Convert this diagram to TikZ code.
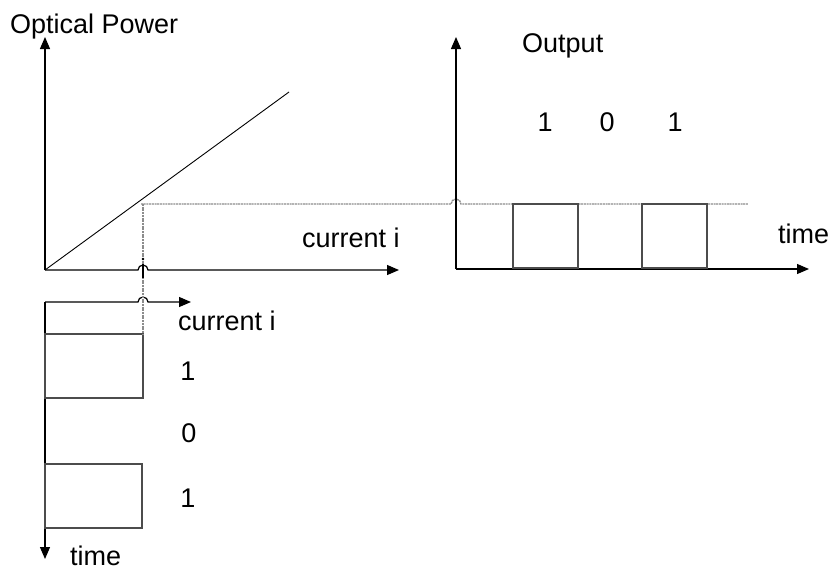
\documentclass[tikz,border=0pt]{standalone}
\usepackage{fontspec}
\setmainfont{Liberation Sans}
\usetikzlibrary{arrows.meta}
\begin{document}
\begin{tikzpicture}[x=1pt,y=-1pt,
  axis/.style={line width=1.2pt,-{Triangle[length=12pt,width=10pt]}},
  plain/.style={line width=1.2pt},
  pulse/.style={line width=1.3pt,draw=black!70},
  dotline/.style={line width=1.4pt,draw=black!45,dash pattern=on 2pt off 0.7pt},
  lbl/.style={inner sep=0pt,font=\fontsize{27}{31}\selectfont}]
\useasboundingbox (0,0) rectangle (837,574);
% coordinates
\coordinate (O1) at (45,270);
\coordinate (Y1) at (45,37);
\coordinate (X1) at (399,270);
\coordinate (D) at (289,92);
\coordinate (K) at (141,204);
\coordinate (O2) at (45,302);
\coordinate (X2) at (191,302);
\coordinate (T2) at (45,559);
\coordinate (O3) at (456,269);
\coordinate (Y3) at (456,37);
\coordinate (X3) at (809,269);
\coordinate (E) at (748,204);
% left graph
\draw[axis] (O1) -- (Y1);
\draw[axis] (O1) -- (138,270) arc[start angle=180,end angle=0,radius=5pt] -- (X1);
\draw[line width=0.9pt] (O1) -- (D);
% lower input graph
\draw[axis] (O2) -- (138,302) arc[start angle=180,end angle=0,radius=5pt] -- (X2);
\draw[axis] (O2) -- (T2);
\draw[pulse] (45,334) rectangle (143,398);
\draw[pulse] (45,464) rectangle (142,528);
% dotted projections
\draw[dotline] (143,204) -- (143,334);
\draw[dotline] (K) -- (451,204) arc[start angle=180,end angle=0,radius=5pt] -- (E);
\draw[line width=2.2pt] (143,264) -- (143,278);
\fill (143,259) circle[radius=1.4pt];
% right output graph
\draw[axis] (O3) -- (Y3);
\draw[axis] (O3) -- (X3);
\draw[pulse] (513,204) rectangle (578,268);
\draw[pulse] (642,204) rectangle (707,268);
% labels
\node[lbl,anchor=base west] (optp) at (10,33) {Optical Power};
\node[lbl,anchor=base west] (cur1) at (302,247) {current i};
\node[lbl,anchor=base west] (cur2) at (178,330) {current i};
\node[lbl,anchor=base] (l1) at (188,380) {1};
\node[lbl,anchor=base] (l0) at (189,442) {0};
\node[lbl,anchor=base] (l2) at (188,507) {1};
\node[lbl,anchor=base west] (time1) at (70,565) {time};
\node[lbl,anchor=base west] (outp) at (522,52) {Output};
\node[lbl,anchor=base] (r1) at (545,131) {1};
\node[lbl,anchor=base] (r0) at (607,131) {0};
\node[lbl,anchor=base] (r2) at (675,131) {1};
\node[lbl,anchor=base west] (time2) at (778,243) {time};
\end{tikzpicture}
\end{document}
